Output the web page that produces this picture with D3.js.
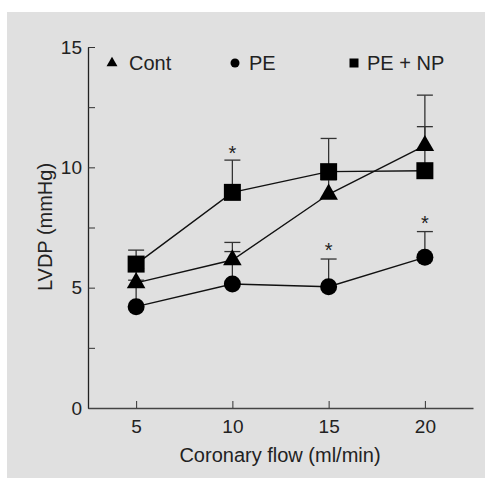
<!DOCTYPE html>
<html>
<head>
<meta charset="utf-8">
<script src="https://cdn.jsdelivr.net/npm/d3@7"></script>
<style>
  html, body { margin: 0; padding: 0; background: #ffffff; }
  svg { display: block; }
  text { font-family: "Liberation Sans", Arial, sans-serif; fill: #222; }
</style>
</head>
<body>
<svg id="chart" width="485" height="478"></svg>
<script>
// ---- data ----
const flows = [5, 10, 15, 20];
const contValues = [5.2, 6.15, 8.88, 10.9];
const contErrors = [0.6, 0.73, 0.6, 2.1];
const peValues = [4.21, 5.15, 5.04, 6.26];
const peErrors = [1.1, 1.35, 1.15, 1.07];
const penpValues = [5.98, 8.96, 9.82, 9.86];
const penpErrors = [0.58, 1.34, 1.38, 1.83];
const seriesNames = ["Cont", "PE", "PE + NP"];
const starFlows = [10, 15, 20];
const starValues = [10.75, 6.75, 7.85];
const yTicks = [0, 2.5, 5, 7.5, 10, 12.5, 15];
const yTickLabels = [0, 5, 10, 15];
const xTicks = [5, 10, 15, 20];
const xTitle = "Coronary flow (ml/min)";
const yTitle = "LVDP (mmHg)";

const series = [
  { name: seriesNames[0], values: contValues, errors: contErrors, shape: d3.symbolTriangle, size: 150, legendSize: 52 },
  { name: seriesNames[1], values: peValues, errors: peErrors, shape: d3.symbolCircle, size: 227, legendSize: 64 },
  { name: seriesNames[2], values: penpValues, errors: penpErrors, shape: d3.symbolSquare, size: 289, legendSize: 81 }
];

const svg = d3.select("#chart");
svg.append("rect").attr("x", 7).attr("y", 12).attr("width", 478).attr("height", 466).attr("fill", "#e0e0e0");

const x = d3.scaleLinear().domain([2.5, 22.5]).range([88, 473]);
const y = d3.scaleLinear().domain([0, 15]).range([408, 47]);

// y axis
const yAxis = svg.append("g").attr("transform", "translate(88,0)")
  .call(d3.axisLeft(y).tickValues(yTicks).tickSizeInner(-7).tickSizeOuter(0).tickPadding(6)
    .tickFormat(d => yTickLabels.includes(d) ? d3.format("d")(d) : ""));
yAxis.select(".domain").attr("stroke", "#222").attr("stroke-width", 1.3);
yAxis.selectAll(".tick line").attr("stroke", "#333").attr("stroke-width", 1);
yAxis.selectAll(".tick text").style("font-size", "19px").style("font-family", "Liberation Sans, Arial, sans-serif").attr("fill", "#222");

// x axis
const xAxis = svg.append("g").attr("transform", "translate(0,408)")
  .call(d3.axisBottom(x).tickValues(xTicks).tickSizeInner(-7).tickSizeOuter(0).tickPadding(12));
xAxis.select(".domain").attr("stroke", "#444").attr("stroke-width", 1.3);
xAxis.selectAll(".tick line").attr("stroke", "#333").attr("stroke-width", 1);
xAxis.selectAll(".tick text").style("font-size", "19px").style("font-family", "Liberation Sans, Arial, sans-serif").attr("fill", "#222");

// titles
svg.append("text").attr("x", 280).attr("y", 462).attr("text-anchor", "middle")
  .style("font-size", "20px").text(xTitle);
svg.append("text").attr("transform", "translate(52,227) rotate(-90)").attr("text-anchor", "middle")
  .style("font-size", "20px").text(yTitle);

// lines
const line = d3.line().x((d, i) => x(flows[i])).y(d => y(d));
series.forEach(s => {
  svg.append("path").datum(s.values).attr("d", line)
    .attr("fill", "none").attr("stroke", "#111").attr("stroke-width", 1.4);
});

// error bars (upper)
series.forEach(s => {
  const g = svg.append("g");
  s.values.forEach((v, i) => {
    const cx = x(flows[i]), top = y(v + s.errors[i]);
    g.append("line").attr("x1", cx).attr("x2", cx).attr("y1", y(v)).attr("y2", top)
      .attr("stroke", "#333").attr("stroke-width", 1.3);
    g.append("line").attr("x1", cx - 8).attr("x2", cx + 8).attr("y1", top).attr("y2", top)
      .attr("stroke", "#333").attr("stroke-width", 1.3);
  });
});

// markers
series.forEach(s => {
  svg.append("g").selectAll("path").data(s.values).join("path")
    .attr("transform", (d, i) => `translate(${x(flows[i])},${y(d)})`)
    .attr("d", d3.symbol().type(s.shape).size(s.size)())
    .attr("fill", "#000");
});

// significance stars
svg.append("g").selectAll("text").data(starValues).join("text")
  .attr("x", (d, i) => x(starFlows[i]))
  .attr("y", d => y(d) + 11)
  .attr("text-anchor", "middle")
  .style("font-size", "20px")
  .text("*");

// legend
const legendX = [112, 235, 354];
const legendTextX = [129, 249, 367];
series.forEach((s, i) => {
  svg.append("path").attr("transform", `translate(${legendX[i]},63)`)
    .attr("d", d3.symbol().type(s.shape).size(s.legendSize)()).attr("fill", "#000");
  svg.append("text").attr("x", legendTextX[i]).attr("y", 70).style("font-size", "20px").text(s.name);
});
</script>
</body>
</html>
